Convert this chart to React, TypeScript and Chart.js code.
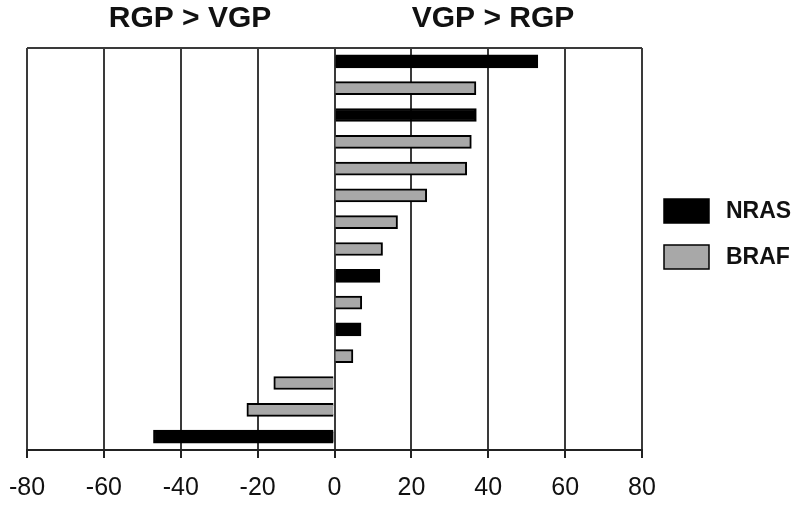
import React, { useEffect, useRef } from "react";
import { Chart, registerables } from "chart.js";

Chart.register(...registerables);

const categories = ["1", "2", "3", "4", "5", "6", "7", "8", "9", "10", "11", "12", "13", "14", "15"];
const nrasValues = [52.9, null, 36.9, null, null, null, null, null, 11.8, null, 6.9, null, null, null, -47.1];
const brafValues = [null, 36.8, null, 35.6, 34.4, 24.0, 16.4, 12.5, null, 7.1, null, 4.8, -15.8, -22.8, null];
const xTicks = [-80, -60, -40, -20, 0, 20, 40, 60, 80];
const seriesNames = ["NRAS", "BRAF"];
const sideTitles = ["RGP > VGP", "VGP > RGP"];

const FONT = "'Liberation Sans', Arial, Helvetica, sans-serif";
const NRAS_COLOR = "#000000";
const BRAF_COLOR = "#a8a8a8";

const decorPlugin = {
  id: "decor",
  beforeDatasetsDraw(chart: any) {
    const { ctx, chartArea } = chart;
    ctx.save();
    ctx.strokeStyle = "#3a3a3a";
    ctx.lineWidth = 2;
    ctx.beginPath();
    ctx.moveTo(chartArea.left, chartArea.top);
    ctx.lineTo(chartArea.right, chartArea.top);
    ctx.stroke();
    ctx.restore();
  },
  afterDraw(chart: any) {
    const { ctx } = chart;
    ctx.save();
    // side titles
    ctx.fillStyle = "#111111";
    ctx.font = `bold 30px ${FONT}`;
    ctx.textAlign = "center";
    ctx.textBaseline = "alphabetic";
    ctx.fillText(sideTitles[0], 190, 27);
    ctx.fillText(sideTitles[1], 493, 27);
    // legend
    const colors = [NRAS_COLOR, BRAF_COLOR];
    const boxY = [199, 245];
    ctx.font = `bold 23px ${FONT}`;
    ctx.textAlign = "left";
    ctx.textBaseline = "middle";
    for (let i = 0; i < seriesNames.length; i++) {
      ctx.fillStyle = colors[i];
      ctx.fillRect(664, boxY[i], 45, 24);
      ctx.strokeStyle = "#000000";
      ctx.lineWidth = 1.5;
      ctx.strokeRect(664, boxY[i], 45, 24);
      ctx.fillStyle = "#111111";
      ctx.fillText(seriesNames[i], 726, boxY[i] + 13);
    }
    ctx.restore();
  },
};

export default function App() {
  const canvasRef = useRef<HTMLCanvasElement | null>(null);

  useEffect(() => {
    if (!canvasRef.current) return;
    const chart = new Chart(canvasRef.current, {
      type: "bar",
      data: {
        labels: categories,
        datasets: [
          {
            label: seriesNames[0],
            data: nrasValues,
            backgroundColor: NRAS_COLOR,
            borderColor: "#000000",
            borderWidth: 2,
            barThickness: 13,
            grouped: false,
          } as any,
          {
            label: seriesNames[1],
            data: brafValues,
            backgroundColor: BRAF_COLOR,
            borderColor: "#000000",
            borderWidth: 2,
            barThickness: 13,
            grouped: false,
          } as any,
        ],
      },
      options: {
        indexAxis: "y",
        animation: false,
        responsive: true,
        maintainAspectRatio: false,
        layout: { padding: { left: 27, right: 158, top: 48, bottom: 0 } },
        plugins: {
          legend: { display: false },
          tooltip: { enabled: false },
          title: { display: false },
        },
        scales: {
          x: {
            type: "linear",
            min: -80,
            max: 80,
            afterFit(scale: any) {
              scale.height = 55;
              scale.paddingLeft = 0;
              scale.paddingRight = 0;
            },
            afterBuildTicks(scale: any) {
              scale.ticks = xTicks.map((v) => ({ value: v }));
            },
            grid: {
              color: "#3a3a3a",
              lineWidth: 2,
              drawTicks: true,
              tickLength: 8,
              tickColor: "#222222",
            },
            border: { display: true, color: "#222222", width: 2 },
            ticks: {
              color: "#111111",
              padding: 15,
              font: { family: FONT, size: 25 },
              maxRotation: 0,
              autoSkip: false,
            },
          },
          y: {
            display: false,
            grid: { display: false },
          },
        },
      },
      plugins: [decorPlugin],
    });
    return () => chart.destroy();
  }, []);

  return (
    <div style={{ position: "fixed", left: 0, top: 0, width: 800, height: 505, background: "#ffffff" }}>
      <canvas ref={canvasRef} />
    </div>
  );
}
